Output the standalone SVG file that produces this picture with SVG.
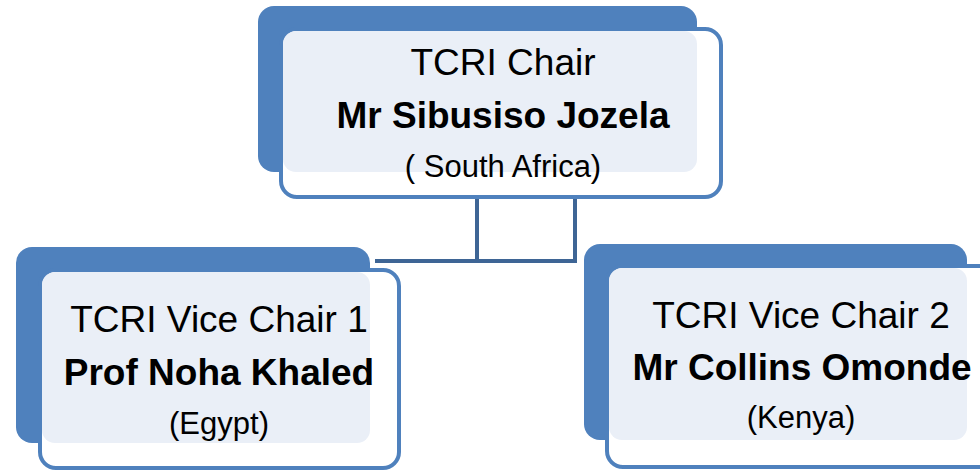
<svg xmlns="http://www.w3.org/2000/svg" width="980" height="471" viewBox="0 0 980 471">
<style>
.back{fill:#4F81BD}
.front{fill:#FFFFFF;stroke:#4F81BD;stroke-width:4}
.light{fill:#EAEFF7}
.t{font-family:"Liberation Sans",Arial,sans-serif;fill:#000;text-anchor:middle}
.r{font-size:37px}
.b{font-size:37px;font-weight:bold}
.s{font-size:31px}
.conn{fill:none;stroke:#3E6595;stroke-width:4}
.faint{fill:none;stroke:#E6ECF4;stroke-width:4}
</style>
<rect width="980" height="471" fill="#FFFFFF"/>
<g id="connectors">
<path class="faint" d="M477 172V196M575 172V196"/>
<path class="conn" d="M477 199V261H375M575 199V261H477"/>
</g>
<g id="node-chair">
<rect class="back" x="258" y="6" width="439" height="166" rx="16"/>
<rect class="front" x="281" y="29" width="440" height="168" rx="16"/>
<rect class="light" x="283" y="31" width="414" height="141" rx="13"/>
<text class="t r" x="503" y="75">TCRI Chair</text>
<text class="t b" x="503" y="128">Mr Sibusiso Jozela</text>
<text class="t s" x="503" y="177">( South Africa)</text>
</g>
<g id="node-vice1">
<rect class="back" x="16" y="247" width="354" height="196" rx="16"/>
<rect class="front" x="40" y="270" width="359" height="198" rx="16"/>
<rect class="light" x="42" y="272" width="328" height="171" rx="13"/>
<text class="t r" x="219" y="332">TCRI Vice Chair 1</text>
<text class="t b" x="219" y="385">Prof Noha Khaled</text>
<text class="t s" x="219" y="434">(Egypt)</text>
</g>
<g id="node-vice2">
<rect class="back" x="584" y="244" width="383" height="196" rx="16"/>
<rect class="front" x="607" y="266" width="390" height="201" rx="16"/>
<rect class="light" x="609" y="268" width="358" height="172" rx="13"/>
<text class="t r" x="801" y="328">TCRI Vice Chair 2</text>
<text class="t b" x="802" y="380">Mr Collins Omonde</text>
<text class="t s" x="801" y="428">(Kenya)</text>
</g>
</svg>
